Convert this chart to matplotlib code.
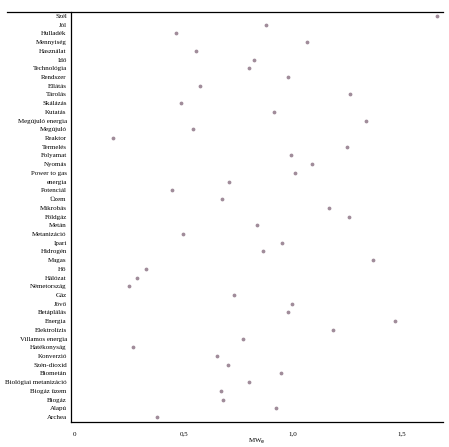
import numpy as np
import matplotlib
matplotlib.use("Agg")
import matplotlib.pyplot as plt
from matplotlib.lines import Line2D

plt.rcParams['font.family'] = ['Liberation Serif', 'DejaVu Serif']

labels = ["Szél", "Jól", "Hulladék", "Mennyiség", "Használat", "Idő", "Technológia",
          "Rendszer", "Ellátás", "Tárolás", "Skálázás", "Kutatás", "Megújuló energia",
          "Megújuló", "Reaktor", "Termelés", "Folyamat", "Nyomás", "Power to gas",
          "energia", "Potenciál", "Üzem", "Mikrobás", "Földgáz", "Metán", "Metanizáció",
          "Ipari", "Hidrogén", "Magas", "Hő", "Hálózat", "Németország", "Gáz", "Jövő",
          "Betáplálás", "Energia", "Elektrolízis", "Villamos energia", "Hatékonyság",
          "Konverzió", "Szén-dioxid", "Biometán", "Biológiai metanizáció", "Biogáz üzem",
          "Biogáz", "Alapú", "Archea"]
values = [1.659, 0.876, 0.462, 1.064, 0.553, 0.823, 0.800,
          0.975, 0.573, 1.263, 0.486, 0.914, 1.333,
          0.543, 0.174, 1.248, 0.991, 1.086, 1.008,
          0.708, 0.445, 0.674, 1.165, 1.257, 0.833, 0.495,
          0.950, 0.864, 1.367, 0.327, 0.283, 0.249, 0.729, 0.997,
          0.975, 1.468, 1.182, 0.771, 0.268,
          0.650, 0.702, 0.943, 0.798, 0.668,
          0.680, 0.922, 0.375]

fig = plt.figure(figsize=(4.49, 4.47), dpi=100)
ax = fig.add_axes([71/449, 1 - 422/447, (443 - 71)/449, (422 - 12)/447])

ypos = np.arange(len(labels))
ax.scatter(values, ypos, s=3, color="#a08c9a", zorder=3)

ax.set_yticks(ypos)
ax.set_yticklabels(labels, fontsize=5)
ax.set_ylim(len(labels) - 1 + 0.57, -0.46)
ax.set_xlim(-0.018, 1.688)
ax.set_xticks([0, 0.5, 1.0, 1.5])
ax.set_xticklabels(["0", "0,5", "1,0", "1,5"], fontsize=5)
ax.tick_params(length=0, pad=7, axis='x')
ax.tick_params(length=0, pad=3, axis='y')
ax.set_xlabel("MW$_\\mathrm{e}$", fontsize=5, labelpad=0)

for s in ["top", "right"]:
    ax.spines[s].set_visible(False)
ax.spines["left"].set_linewidth(0.9)
ax.spines["bottom"].set_linewidth(0.9)

# long top rule across the label area
fig.add_artist(Line2D([7/449, 443/449], [1 - 12/447, 1 - 12/447],
                      color="black", linewidth=0.9, transform=fig.transFigure))

fig.savefig("out.png", dpi=100)
